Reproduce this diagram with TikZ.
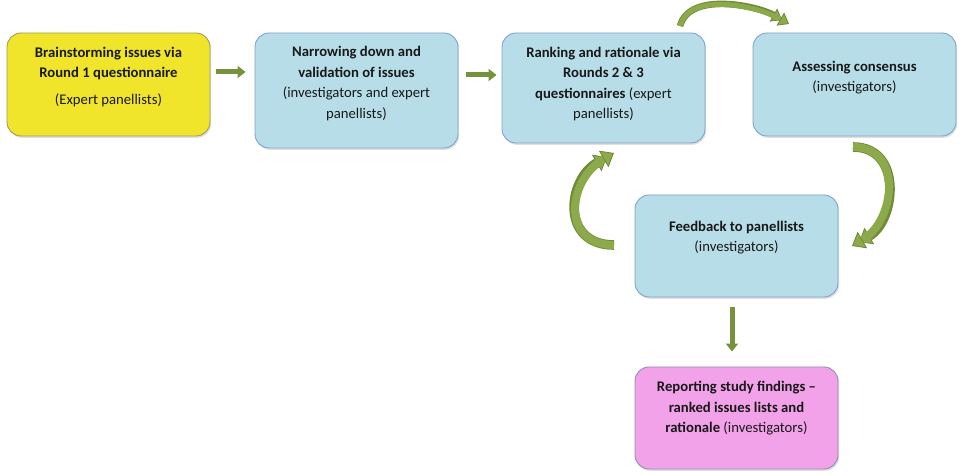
\documentclass[tikz,border=0pt]{standalone}
\usepackage{fontspec}
\setmainfont{Carlito}
\usetikzlibrary{arrows.meta,shadows}

\definecolor{aquafill}{HTML}{B7DEE8}
\definecolor{aqualine}{HTML}{7FA2CE}
\definecolor{yellowfill}{HTML}{F0E52A}
\definecolor{yellowline}{HTML}{9C9C62}
\definecolor{pinkfill}{HTML}{F2A2E8}
\definecolor{pinkline}{HTML}{8C8CC0}
\definecolor{flowgreen}{HTML}{76923C}
\definecolor{arrowlight}{HTML}{8CAA4A}
\definecolor{arrowdark}{HTML}{6E8A3A}

\begin{document}
\begin{tikzpicture}[x=1pt,y=1pt,
    box/.style={rounded corners=14pt, minimum width=203pt, line width=0.9pt,
        drop shadow={opacity=0.25, shadow xshift=1.2pt, shadow yshift=-1.8pt}},
    boxtext/.style={align=center, inner sep=0pt, text=black!90,
        font=\fontsize{14.7}{20.5}\selectfont},
    flow/.style={line width=5pt, draw=flowgreen, -{Triangle[length=8pt,width=12pt]}},
    roundarrow/.style={line width=#1, draw=arrowlight,
        preaction={draw=arrowdark, line width=#1+1.6pt, shorten >=8pt}}
]
    \useasboundingbox (0,0) rectangle (961,474);
    %\draw[very thin,color=gray] (0,0) grid[step=50] (961,474);

    % boxes
    \node[box, fill=yellowfill, draw=yellowline, minimum height=103pt,
        label={[boxtext, name=brain-text, yshift=7.5pt]center:{\textbf{Brainstorming issues via}\\\textbf{Round 1 questionnaire}\\[6pt](Expert panellists)}}]
        (brain) at (108.5,389.5) {};
    \node[box, fill=aquafill, draw=aqualine, minimum height=115pt,
        label={[boxtext, name=narrow-text, yshift=7pt]center:{\textbf{Narrowing down and}\\\textbf{validation of issues}\\(investigators and expert\\panellists)}}]
        (narrow) at (356.5,383.5) {};
    \node[box, fill=aquafill, draw=aqualine, minimum height=110pt,
        label={[boxtext, name=rank-text, yshift=4pt]center:{\textbf{Ranking and rationale via}\\\textbf{Rounds 2 \& 3}\\\textbf{questionnaires} (expert\\panellists)}}]
        (rank) at (603.5,386) {};
    \node[box, fill=aquafill, draw=aqualine, minimum height=103pt,
        label={[boxtext, name=consensus-text, yshift=7pt]center:{\textbf{Assessing consensus}\\(investigators)}}]
        (consensus) at (854.5,389.5) {};
    \node[box, fill=aquafill, draw=aqualine, minimum height=102pt,
        label={[boxtext, name=feedback-text, yshift=8.5pt]center:{\textbf{Feedback to panellists}\\(investigators)}}]
        (feedback) at (736.5,228) {};
    \node[box, fill=pinkfill, draw=pinkline, minimum height=102pt,
        label={[boxtext, name=report-text, yshift=9.5pt]center:{\textbf{Reporting study findings --}\\\textbf{ranked issues lists and}\\\textbf{rationale} (investigators)}}]
        (report) at (736.5,56) {};

    % straight arrows
    \draw[flow, shorten <=6pt, shorten >=9pt] ([yshift=12.5pt]brain.east) -- ([yshift=18.5pt]narrow.west);
    \draw[flow, shorten <=8pt, shorten >=5pt] ([yshift=15.5pt]narrow.east) -- ([yshift=13pt]rank.west);
    \draw[flow, shorten <=10pt, shorten >=15pt] ([xshift=-4.5pt]feedback.south) -- ([xshift=-4.5pt]report.north);

    % round arrows
    \coordinate (toptail) at (680,448);
    \coordinate (tophead) at (789,450);
    \coordinate (righttail) at (853,327);
    \coordinate (righthead) at (852,228);
    \coordinate (lefttail) at (614,229);
    \coordinate (lefthead) at (614,321);
    \draw[roundarrow=5pt, -{Triangle[length=10pt,width=15pt,color=arrowdark,fill=arrowlight,line width=0.8pt]}]
        (toptail) to[out=75,in=150,looseness=0.85] (tophead);
    \draw[roundarrow=8pt, -{Triangle[length=12pt,width=19pt,color=arrowdark,fill=arrowlight,line width=0.8pt]}]
        (righttail) to[out=0,in=30,looseness=1.3] (righthead);
    \draw[roundarrow=8pt, -{Triangle[length=12pt,width=19pt,color=arrowdark,fill=arrowlight,line width=0.8pt]}]
        (lefttail) to[out=180,in=210,looseness=1.5] (lefthead);

\end{tikzpicture}
\end{document}
